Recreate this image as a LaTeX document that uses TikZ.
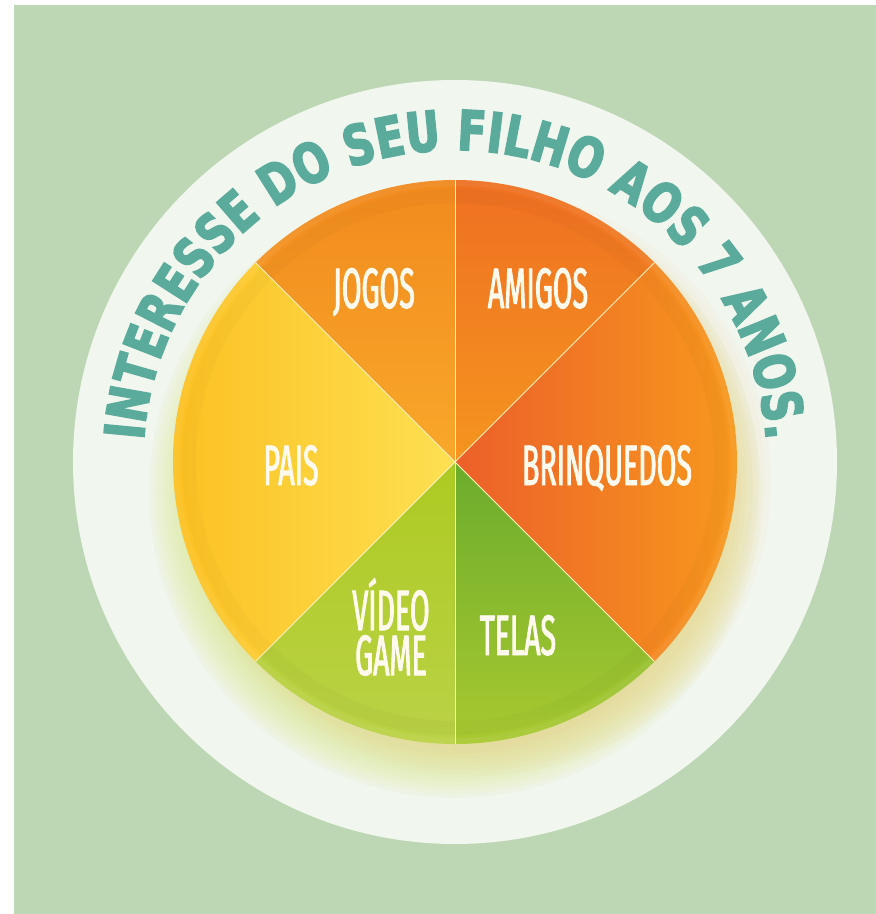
\documentclass[tikz,border=0pt]{standalone}
\usepackage{fontspec}
\usetikzlibrary{decorations.text}
\newfontfamily\titlefont{DejaVu Sans}[FakeStretch=0.76,FakeBold=3]
\newfontfamily\labelfont{Fira Sans}[FakeStretch=0.5,FakeBold=1.6]

\definecolor{bggreen}{HTML}{BDD6B4}
\definecolor{ringwhite}{HTML}{F1F6EF}
\definecolor{titleteal}{HTML}{5AAB9B}
\definecolor{labelwhite}{HTML}{FFF9EE}
\definecolor{sepline}{HTML}{FFF1C2}
\definecolor{glowlime}{HTML}{D9E88A}
\definecolor{glowpeach}{HTML}{F8CE96}
\definecolor{jogosA}{HTML}{F18A1E}
\definecolor{jogosB}{HTML}{F9A82A}
\definecolor{amigosA}{HTML}{EF7022}
\definecolor{amigosB}{HTML}{F5951F}
\definecolor{brinqA}{HTML}{EC5F29}
\definecolor{brinqB}{HTML}{F89E1C}
\definecolor{paisA}{HTML}{FCBE1E}
\definecolor{paisB}{HTML}{FDE052}
\definecolor{videoA}{HTML}{ADCA22}
\definecolor{videoB}{HTML}{BAD246}
\definecolor{telasA}{HTML}{6BAC2C}
\definecolor{telasB}{HTML}{A9C930}

\begin{document}
\begin{tikzpicture}[
     label/.style = {text=labelwhite, inner sep=0pt,
      font=\labelfont\fontsize{57}{45}\selectfont},
     sector/.style = {draw=none},
     sep/.style = {draw=sepline, line width=0.9pt}
    ]
    \useasboundingbox (-455pt,-452pt) rectangle (421pt,462pt);
    \fill[white] (-455pt,-452pt) rectangle (421pt,462pt);
    \fill[bggreen] (-441pt,-452pt) rectangle (421pt,457pt);
    \fill[ringwhite] (0,0) circle[radius=382pt];

    % soft glow under the plate
    \foreach \r in {262,266,...,306}
      \fill[glowlime, opacity=0.09] (0pt,-30pt) circle[radius=\r pt];
    \foreach \r in {264,270,...,294}
      \fill[glowpeach, opacity=0.07] (22pt,-20pt) circle[radius=\r pt];

    % the six pieces
    \shade[sector, top color=jogosA, bottom color=jogosB]
      (0,0) -- (90:282pt) arc[start angle=90, end angle=135, radius=282pt] -- cycle;
    \shade[sector, top color=amigosA, bottom color=amigosB]
      (0,0) -- (45:282pt) arc[start angle=45, end angle=90, radius=282pt] -- cycle;
    \shade[sector, left color=brinqA, right color=brinqB]
      (0,0) -- (-45:282pt) arc[start angle=-45, end angle=45, radius=282pt] -- cycle;
    \shade[sector, left color=paisA, right color=paisB]
      (0,0) -- (135:282pt) arc[start angle=135, end angle=225, radius=282pt] -- cycle;
    \shade[sector, top color=videoA, bottom color=videoB]
      (0,0) -- (225:282pt) arc[start angle=225, end angle=270, radius=282pt] -- cycle;
    \shade[sector, top color=telasA, bottom color=telasB]
      (0,0) -- (270:282pt) arc[start angle=270, end angle=315, radius=282pt] -- cycle;

    % rim of the plate
    \draw[black, opacity=0.02, line width=14pt] (0,0) circle[radius=266pt];
    \draw[white, opacity=0.06, line width=6pt] (0,0) circle[radius=279pt];
    \foreach \a in {45,90,135,225,270,315}
      \draw[sep] (0,0) -- (\a:282pt);

    \node[label, anchor=base] (jogos) at (-81pt,154pt) {JOGOS};
    \node[label, anchor=base] (amigos) at (83pt,154pt) {AMIGOS};
    \node[label, anchor=base] (pais) at (-164pt,-23pt) {PAIS};
    \node[label, anchor=base] (brinquedos) at (152pt,-23pt) {BRINQUEDOS};
    \node[label, align=center] (videogame) at (-64pt,-165pt) {VÍDEO\\GAME};
    \node[label, anchor=base] (telas) at (63pt,-193pt) {TELAS};

    \path[decorate, decoration={text along path, text align={fit to path},
      text={|\titlefont\bfseries\fontsize{55}{55}\selectfont\color{titleteal}|INTERESSE DO SEU FILHO AOS 7 ANOS.}}]
      (176:312pt) arc[start angle=176, end angle=4, radius=312pt];
\end{tikzpicture}
\end{document}
